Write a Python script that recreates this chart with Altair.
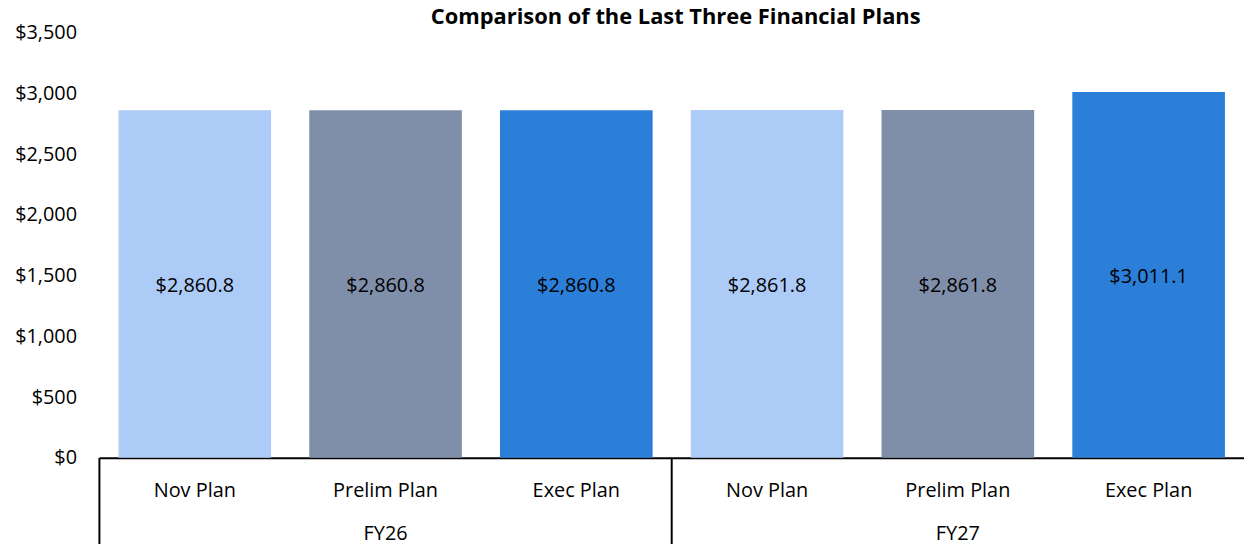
import altair as alt
import pandas as pd

groups = ["FY26", "FY26", "FY26", "FY27", "FY27", "FY27"]
plans = ["Nov Plan", "Prelim Plan", "Exec Plan", "Nov Plan", "Prelim Plan", "Exec Plan"]
values = [2860.8, 2860.8, 2860.8, 2861.8, 2861.8, 3011.1]
group_names = ["FY26", "FY27"]
plan_names = ["Nov Plan", "Prelim Plan", "Exec Plan"]
plan_colors = ["#ADCBF7", "#7F8FAA", "#2B7FD8"]
y_ticks = [0, 500, 1000, 1500, 2000, 2500, 3000, 3500]

FONT = "Open Sans"

df = pd.DataFrame({"group": groups, "plan": plans, "value": values})
df["key"] = df["group"] + "|" + df["plan"]
df["half"] = df["value"] / 2
order = list(df["key"])

gdf = pd.DataFrame({"group": group_names, "idx": list(range(len(group_names)))})
gdf["mid"] = gdf["idx"] + 0.5

x_axis = alt.Axis(
    title=None,
    labelExpr="split(datum.label, '|')[1]",
    labelAngle=0,
    labelFont=FONT,
    labelFontSize=20,
    labelColor="#000000",
    labelPadding=23,
    ticks=False,
    domainColor="#000000",
    domainWidth=2,
)
x_scale = alt.Scale(paddingInner=0.2, paddingOuter=0.1)

y_axis = alt.Axis(
    title=None,
    values=y_ticks,
    format="$,.0f",
    grid=False,
    domain=False,
    ticks=False,
    labelFont=FONT,
    labelFontSize=20,
    labelColor="#000000",
    labelPadding=23,
)
y_scale = alt.Scale(domain=[0, 3500], nice=False)

bars = alt.Chart(df).mark_bar().encode(
    x=alt.X("key:N", sort=order, scale=x_scale, axis=x_axis),
    y=alt.Y("value:Q", scale=y_scale, axis=y_axis),
    color=alt.Color("plan:N", scale=alt.Scale(domain=plan_names, range=plan_colors), legend=None),
)

bar_labels = alt.Chart(df).mark_text(font=FONT, fontSize=20, color="#000000", baseline="middle", dy=2).encode(
    x=alt.X("key:N", sort=order, scale=x_scale, axis=x_axis),
    y=alt.Y("half:Q", scale=y_scale, axis=y_axis),
    text=alt.Text("value:Q", format="$,.1f"),
)

main = alt.layer(bars, bar_labels)

grp_scale = alt.Scale(domain=[0, len(group_names)], nice=False, zero=False)

dividers = alt.Chart(gdf).mark_rule(color="#000000", strokeWidth=2).encode(
    x=alt.X("idx:Q", scale=grp_scale, axis=None),
    y=alt.value(428),
    y2=alt.value(520),
)

group_text = alt.Chart(gdf).mark_text(font=FONT, fontSize=20, color="#000000", baseline="middle").encode(
    x=alt.X("mid:Q", scale=grp_scale, axis=None),
    y=alt.value(505),
    text="group:N",
)

extra = alt.layer(dividers, group_text)

chart = alt.layer(main, extra).resolve_scale(x="independent").properties(
    width=1152,
    height=428,
    autosize=alt.AutoSizeParams(type="none"),
    padding={"left": 92, "top": 23, "right": 0, "bottom": 85},
    title=alt.TitleParams(
        "Comparison of the Last Three Financial Plans",
        font=FONT,
        fontSize=22,
        fontWeight="bold",
        color="#000000",
        anchor="middle",
        offset=5,
        dy=11,
        dx=4,
    ),
).configure_view(stroke=None)

chart.save("out.html", embed_options={"renderer": "svg", "actions": False})
